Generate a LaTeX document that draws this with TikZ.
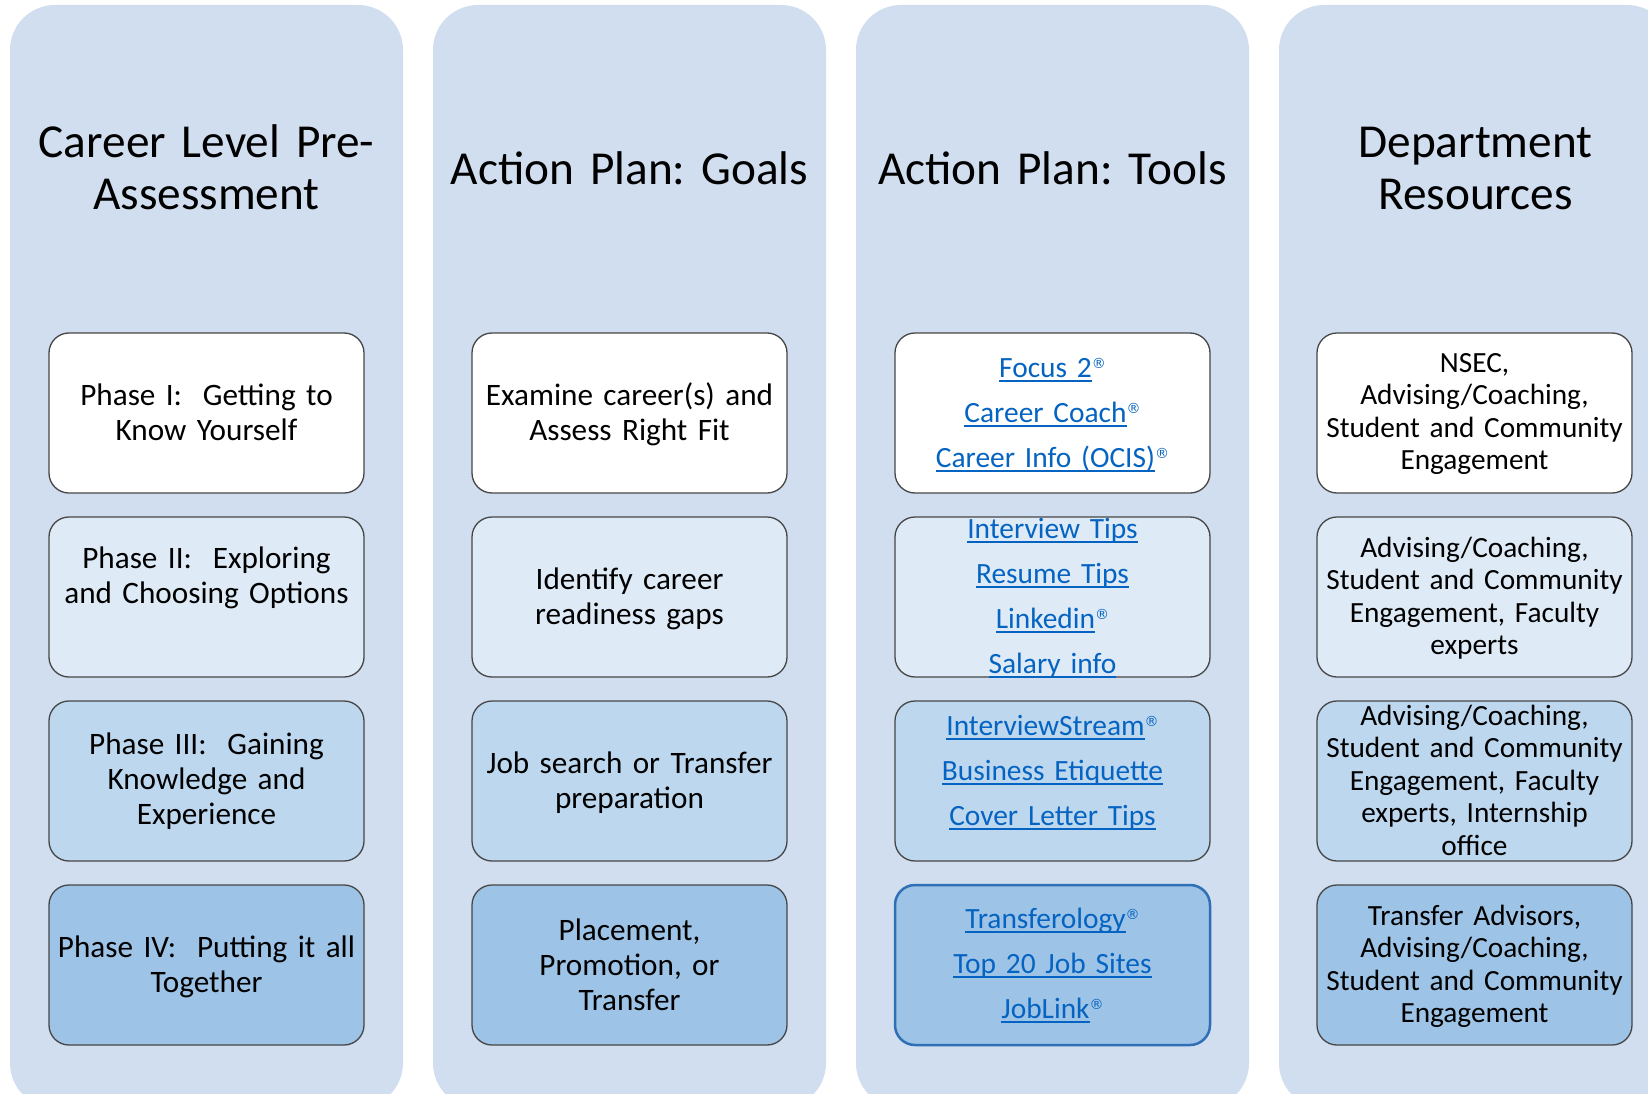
\documentclass[tikz,border=0pt]{standalone}
\usepackage{fontspec}
\setmainfont{Carlito}
\newfontfamily\regfont{DejaVu Sans}
\frenchspacing
\definecolor{colbg}{RGB}{209,222,239}
\definecolor{fillA}{RGB}{255,255,255}
\definecolor{fillB}{RGB}{222,234,246}
\definecolor{fillC}{RGB}{189,215,238}
\definecolor{fillD}{RGB}{157,195,230}
\definecolor{boxline}{RGB}{70,70,70}
\definecolor{linkblue}{RGB}{5,99,193}
\definecolor{bluerim}{RGB}{47,111,181}
\newcommand\lnk[1]{\leavevmode\setbox0\hbox{\color{linkblue}#1}\rlap{\color{linkblue}\rule[-4.5pt]{\wd0}{1.7pt}}\box0}
\newcommand\regmark{\raisebox{9pt}{\regfont\fontsize{14}{14}\selectfont ®}}
\tikzset{
  colbox/.style={fill=colbg, rounded corners=45pt, minimum width=393pt, minimum height=1103pt, inner sep=0pt},
  cell/.style={draw=boxline, line width=1.3pt, rounded corners=20pt, minimum width=315pt, minimum height=160pt, inner sep=0pt},
  ttl/.style={anchor=base, text width=380pt, align=center, inner sep=0pt, font=\fontsize{47.3}{52}\selectfont},
  txt/.style={anchor=base, text width=312pt, align=center, inner sep=0pt, font=\fontsize{31.2}{35}\selectfont},
  lnktxt/.style={anchor=base, text width=312pt, align=center, inner sep=0pt, font=\fontsize{29.4}{45}\selectfont},
  depttxt/.style={anchor=base, text width=312pt, align=center, inner sep=0pt, font=\fontsize{29.3}{32.5}\selectfont}
}
\begin{document}
\begin{tikzpicture}[x=1pt,y=-1pt]
\useasboundingbox (0,0) rectangle (1648,1094);
\clip (0,0) rectangle (1648,1094);
\fill[white] (0,0) rectangle (1648,1094);
% columns
\node[colbox] (c1) at (206.5,556.5) {};
\node[colbox] (c2) at (629.5,556.5) {};
\node[colbox] (c3) at (1052.5,556.5) {};
\node[colbox] (c4) at (1475.5,556.5) {};
% titles
\node[ttl] (t1) at (206.5,158) {Career Level Pre-\\Assessment};
\node[ttl] (t2) at (629.5,184.5) {Action Plan: Goals};
\node[ttl] (t3) at (1052.5,184.5) {Action Plan: Tools};
\node[ttl] (t4) at (1475.5,158) {Department\\Resources};
% column 1
\node[cell, fill=fillA] (a1) at (206.5,413) {};
\node[cell, fill=fillB] (a2) at (206.5,597) {};
\node[cell, fill=fillC] (a3) at (206.5,781) {};
\node[cell, fill=fillD] (a4) at (206.5,965) {};
\node[txt] (ta1) at (206.5,405) {Phase I:\ \ Getting to\\Know Yourself};
\node[txt] (ta2) at (206.5,568) {Phase II:\ \ Exploring\\and Choosing Options};
\node[txt] (ta3) at (206.5,754) {Phase III:\ \ Gaining\\Knowledge and\\Experience};
\node[txt] (ta4) at (206.5,957) {Phase IV:\ \ Putting it all\\Together};
% column 2
\node[cell, fill=fillA] (b1) at (629.5,413) {};
\node[cell, fill=fillB] (b2) at (629.5,597) {};
\node[cell, fill=fillC] (b3) at (629.5,781) {};
\node[cell, fill=fillD] (b4) at (629.5,965) {};
\node[txt] (tb1) at (629.5,405) {Examine career(s) and\\Assess Right Fit};
\node[txt] (tb2) at (629.5,589) {Identify career\\readiness gaps};
\node[txt] (tb3) at (629.5,773) {Job search or Transfer\\preparation};
\node[txt] (tb4) at (629.5,940) {Placement,\\Promotion, or\\Transfer};
% column 3
\node[cell, fill=fillA] (d1) at (1052.5,413) {};
\node[cell, fill=fillB] (d2) at (1052.5,597) {};
\node[cell, fill=fillC] (d3) at (1052.5,781) {};
\node[cell, fill=fillD, draw=bluerim, line width=2.5pt] (d4) at (1052.5,965) {};
\node[lnktxt] (td1) at (1052.5,377) {\lnk{Focus 2}\regmark\\\lnk{Career Coach}\regmark\\\lnk{Career Info (OCIS)}\regmark};
\node[lnktxt] (td2) at (1052.5,538) {\lnk{Interview Tips}\\\lnk{Resume Tips}\\\lnk{Linkedin}\regmark\\\lnk{Salary info}};
\node[lnktxt] (td3) at (1052.5,735) {\lnk{InterviewStream}\regmark\\\lnk{Business Etiquette}\\\lnk{Cover Letter Tips}};
\node[lnktxt] (td4) at (1052.5,928) {\lnk{Transferology}\regmark\\\lnk{Top 20 Job Sites}\\\lnk{JobLink}\regmark};
% column 4
\node[cell, fill=fillA] (e1) at (1474.5,413) {};
\node[cell, fill=fillB] (e2) at (1474.5,597) {};
\node[cell, fill=fillC] (e3) at (1474.5,781) {};
\node[cell, fill=fillD] (e4) at (1474.5,965) {};
\node[depttxt] (te1) at (1474.5,372) {NSEC,\\Advising/Coaching,\\Student and Community\\Engagement};
\node[depttxt] (te2) at (1474.5,557) {Advising/Coaching,\\Student and Community\\Engagement, Faculty\\experts};
\node[depttxt] (te3) at (1474.5,725) {Advising/Coaching,\\Student and Community\\Engagement, Faculty\\experts, Internship\\office};
\node[depttxt] (te4) at (1474.5,925) {Transfer Advisors,\\Advising/Coaching,\\Student and Community\\Engagement};
\end{tikzpicture}
\end{document}
